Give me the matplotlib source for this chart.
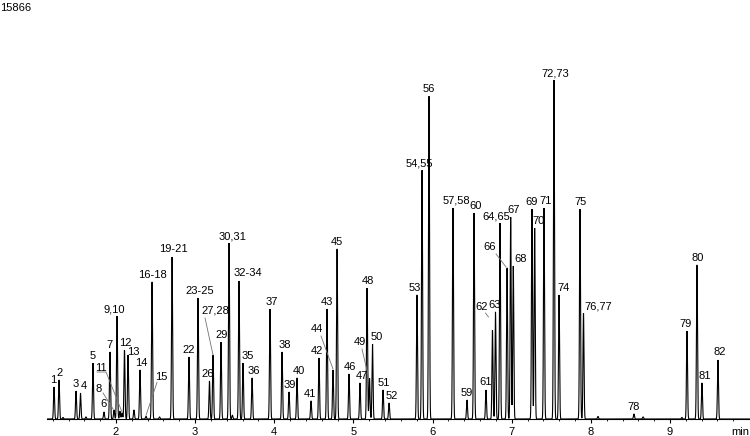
import numpy as np
import matplotlib
matplotlib.use("Agg")
import matplotlib.pyplot as plt

plt.rcParams["font.family"] = ["Liberation Sans", "DejaVu Sans"]

# ---------------- data ----------------
y_max_label = "15866"

peak_labels = ["1", "2", "3", "4", "5", "6", "7", "8", "9,10", "11", "12", "13", "14",
               "15", "16-18", "19-21", "22", "23-25", "26", "27,28", "29", "30,31",
               "32-34", "35", "36", "37", "38", "39", "40", "41", "42", "43", "44",
               "45", "46", "47", "48", "49", "50", "51", "52", "53", "54,55", "56",
               "57,58", "59", "60", "61", "62", "63", "64,65", "66", "67", "68", "69",
               "70", "71", "72,73", "74", "75", "76,77", "78", "79", "80", "81", "82"]

peak_times = [1.217, 1.280, 1.495, 1.551, 1.709, 1.848, 1.924, 1.975, 2.013, 2.076,
              2.107, 2.152, 2.303, 2.379, 2.455, 2.708, 2.922, 3.036, 3.181, 3.226,
              3.327, 3.428, 3.554, 3.605, 3.719, 3.946, 4.098, 4.186, 4.287, 4.464,
              4.565, 4.666, 4.742, 4.793, 4.944, 5.083, 5.172, 5.203, 5.241, 5.374,
              5.450, 5.803, 5.867, 5.955, 6.258, 6.435, 6.524, 6.675, 6.757, 6.795,
              6.852, 6.941, 6.987, 7.020, 7.256, 7.290, 7.408, 7.534, 7.598, 7.863,
              7.907, 8.545, 9.215, 9.341, 9.404, 9.606]

peak_heights = [1226, 1494, 1073, 996, 2146, 268, 2567, 345, 3947, 230,
                2644, 2452, 1878, 100, 5250, 6208, 2376, 4637, 1456, 2452,
                2951, 6744, 5288, 2146, 1571, 4215, 2567, 1035, 1571, 690,
                2338, 4215, 1878, 6514, 1724, 1380, 5020, 1571, 2874, 1111,
                613, 4752, 9542, 12377, 8086, 728, 7894, 1111, 3410, 4100,
                7511, 5786, 7741, 5863, 8047, 7319, 8086, 12990, 4752, 8047,
                4062, 192, 3372, 5901, 1380, 2261]

# small unlabelled bumps on the baseline
minor_times = [1.33, 1.62, 2.05, 2.227, 2.55, 3.47, 8.09, 8.66, 9.15]
minor_heights = [60, 80, 300, 345, 80, 150, 100, 80, 60]

tick_values = [2, 3, 4, 5, 6, 7, 8, 9]
x_unit = "min"

# ---------------- layout / style ----------------
W, H = 750, 436
fig = plt.figure(figsize=(W / 100, H / 100), dpi=100)
ax = fig.add_axes([47 / W, 17 / H, 703 / W, 414 / H])
ax.set_xlim(1.128, 10.011)
ax.set_ylim(0, float(y_max_label))

sigma = 0.0065
t = np.arange(1.128, 10.011, 0.0004)
y = np.zeros_like(t)
for pt, ph in zip(peak_times + minor_times, peak_heights + minor_heights):
    y += ph * np.exp(-0.5 * ((t - pt) / sigma) ** 2)
ax.plot(t, y, color="black", lw=0.8, solid_joinstyle="miter", zorder=3)

for s in ["left", "right", "top"]:
    ax.spines[s].set_visible(False)
ax.spines["bottom"].set_linewidth(0.8)
ax.set_yticks([])
ax.set_xticks(tick_values)
ax.set_xticklabels([str(v) for v in tick_values])
ax.set_xticks(np.arange(1.2, 10.0, 0.2), minor=True)
ax.tick_params(axis="x", which="major", length=3, width=0.8, pad=3, labelsize=8)
ax.tick_params(axis="x", which="minor", length=1.5, width=0.6)

fig.text(0.0, 1 - 8 / H, y_max_label, ha="left", va="center", fontsize=8)
fig.text(749 / W, 1 - 432 / H, x_unit, ha="right", va="center", fontsize=8)

# label offsets in pixels (dx right, dy up) relative to peak top
label_dx = {"1": -1, "2": 1, "4": 3, "7": -1, "9,10": -3, "12": 1, "13": 5, "14": 1,
            "19-21": 1, "23-25": 2, "26": -2, "29": 1, "30,31": 3, "32-34": 9,
            "35": 5, "36": 2, "37": 2, "38": 3, "39": 1, "40": 2, "41": -1, "42": -2,
            "46": 1, "47": 2, "48": 1, "50": 4, "51": 1, "52": 3, "53": -2,
            "54,55": -3, "57,58": 3, "60": 2, "63": -1, "64,65": -4, "67": 3,
            "68": 7, "70": 3.5, "71": 2, "72,73": 1, "74": 4, "75": 1,
            "76,77": 14.5, "79": -1, "80": 1, "81": 3, "82": 2}
label_dy = {"13": 3, "6": 8, "19-21": 8, "32-34": 8, "57,58": 8, "61": 8, "82": 8}

# labels joined to their peak with a thin leader line:
# label centre offset and leader path offsets (pixels, y up) from the peak top
leaders = {
    "8": ((-15, 21), [(-11, 17), (-1, 1)]),
    "11": ((-21, 45), [(-25, 41), (-16, 41), (0, 1)]),
    "15": ((15, 39), [(11, 34), (0, 1)]),
    "27,28": ((2, 45), [(-8, 37), (0, 0)]),
    "44": ((-16, 41), [(-12, 34), (0, 1)]),
    "49": ((-9.5, 36), [(-7.5, 29), (-1, 1)]),
    "62": ((-10.5, 23), [(-7, 17), (-4, 13)]),
    "66": ((-17, 21), [(-11, 14), (-1, 1)]),
}

fig.canvas.draw()
tr = ax.transData
for lab, pt, ph in zip(peak_labels, peak_times, peak_heights):
    px, py = tr.transform((pt, ph))
    if lab in leaders:
        (ldx, ldy), path = leaders[lab]
        fig.text((px + ldx) / W, (py + ldy) / H, lab, ha="center", va="center",
                 fontsize=8)
        xs = [(px + a) / W for a, b in path]
        ys = [(py + b) / H for a, b in path]
        fig.add_artist(plt.Line2D(xs, ys, color="0.45", lw=0.6,
                                  transform=fig.transFigure))
    else:
        dx = label_dx.get(lab, 0)
        dy = label_dy.get(lab, 7)
        fig.text((px + dx) / W, (py + dy) / H, lab, ha="center", va="center",
                 fontsize=8)

fig.savefig("out.png", dpi=100)
